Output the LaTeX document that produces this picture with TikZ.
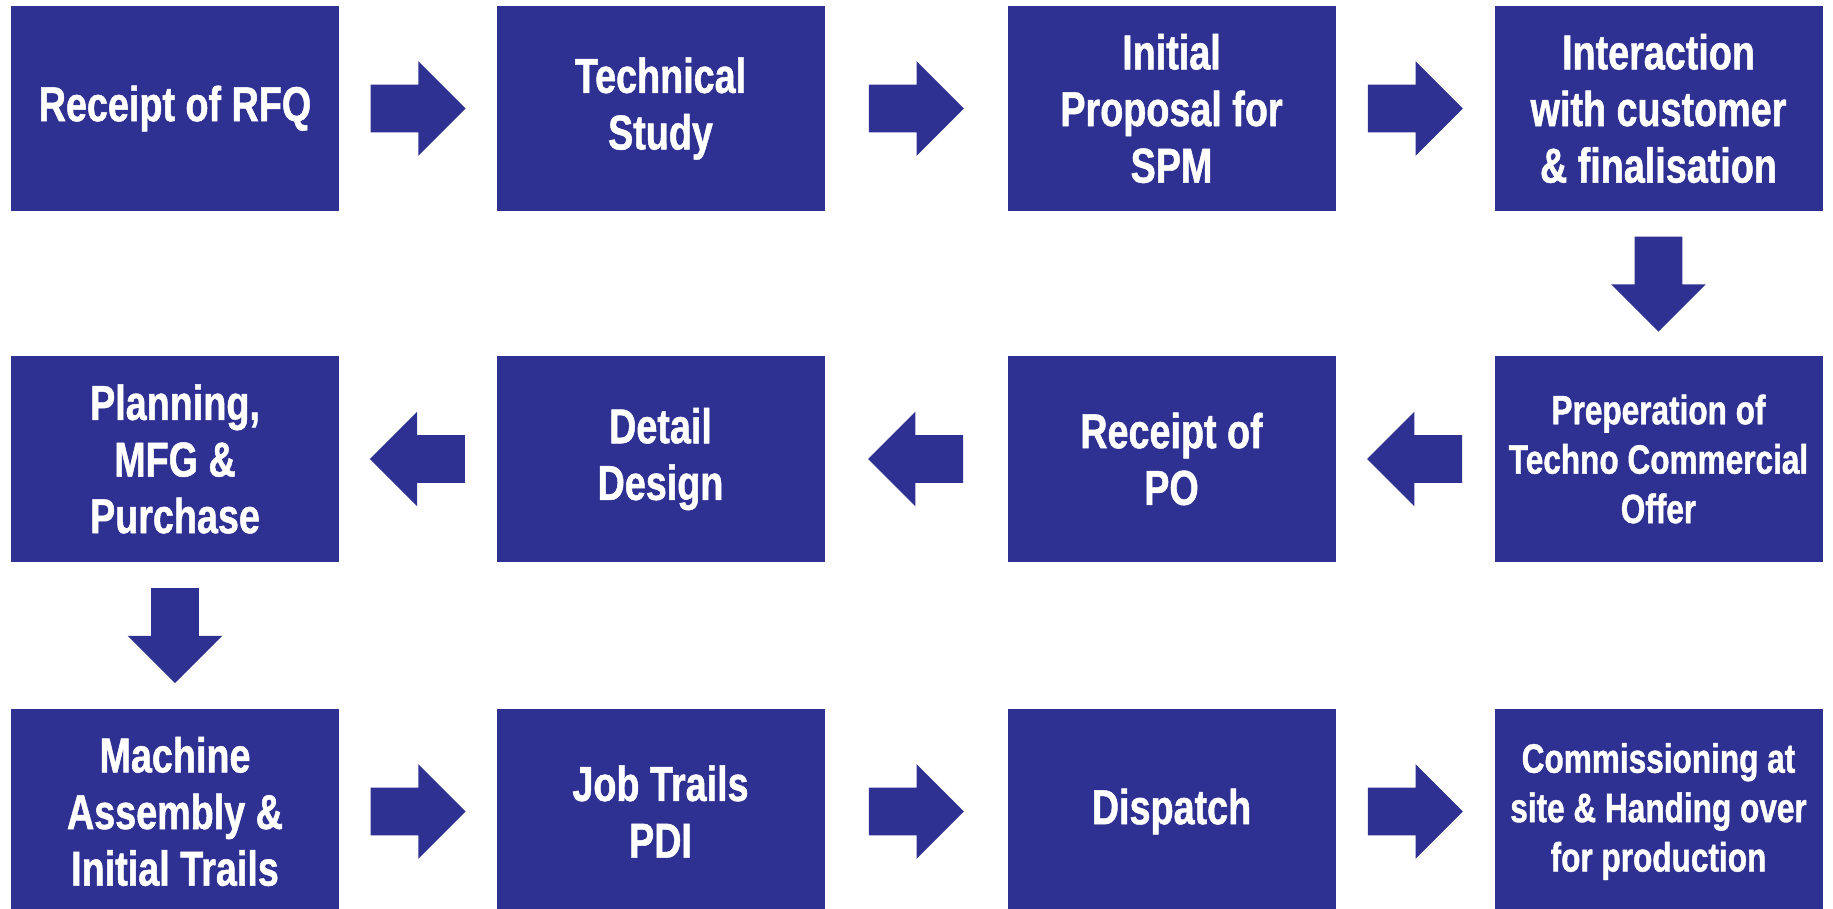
\documentclass[tikz,border=0pt]{standalone}
\usepackage{fontspec}
\setmainfont{Liberation Sans}[FakeStretch=0.77, BoldFeatures={FakeBold=1}]
\usetikzlibrary{shapes.arrows,calc}
\definecolor{flowblue}{RGB}{46,49,146}
\tikzset{
  stepbox/.style={fill=flowblue, text=white, minimum width=164pt, minimum height=102.5pt, inner sep=0pt, align=center, font=\bfseries\fontsize{24.5pt}{28.3pt}\selectfont},
  smalltext/.style={font=\bfseries\fontsize{20.5pt}{24.7pt}\selectfont},
  fatarrow/.style={single arrow, fill=flowblue, minimum height=47.5pt, single arrow head extend=11.75pt, inner xsep=0pt, inner ysep=11.75pt, rotate=#1, xshift=-5.75pt},
  fatarrow/.default=0
}
\begin{document}
\begin{tikzpicture}[x=0.5pt, y=-0.5pt]
\clip (0,0) rectangle (1833,909);
\node[stepbox] (rfq) at (175,108.5) {Receipt of RFQ};
\node[stepbox] (study) at (660.5,108.5) {Technical\\Study};
\node[stepbox] (proposal) at (1171.5,108.5) {Initial\\Proposal for\\SPM};
\node[stepbox] (interact) at (1658.5,108.5) {Interaction\\with customer\\\& finalisation};
\node[stepbox, smalltext] (offer) at (1658.5,459) {Preperation of\\Techno Commercial\\Offer};
\node[stepbox] (po) at (1171.5,459) {Receipt of\\PO};
\node[stepbox] (design) at (660.5,459) {Detail\\Design};
\node[stepbox] (planning) at (175,459) {Planning,\\MFG \&\\Purchase};
\node[stepbox] (assembly) at (175,811.5) {Machine\\Assembly \&\\Initial Trails};
\node[stepbox] (trails) at (660.5,811.5) {Job Trails\\PDI};
\node[stepbox] (dispatch) at (1171.5,811.5) {Dispatch};
\node[stepbox, smalltext] (commission) at (1658.5,811.5) {Commissioning at\\site \& Handing over\\for production};
\node[fatarrow] (a1) at ($(rfq.east)!0.5!(study.west)$) {};
\node[fatarrow] (a2) at ($(study.east)!0.5!(proposal.west)$) {};
\node[fatarrow] (a3) at ($(proposal.east)!0.5!(interact.west)$) {};
\node[fatarrow=-90] (a4) at ($(interact.south)!0.5!(offer.north)$) {};
\node[fatarrow=180] (a5) at ($(offer.west)!0.5!(po.east)$) {};
\node[fatarrow=180] (a6) at ($(po.west)!0.5!(design.east)$) {};
\node[fatarrow=180] (a7) at ($(design.west)!0.5!(planning.east)$) {};
\node[fatarrow=-90] (a8) at ($(planning.south)!0.5!(assembly.north)$) {};
\node[fatarrow] (a9) at ($(assembly.east)!0.5!(trails.west)$) {};
\node[fatarrow] (a10) at ($(trails.east)!0.5!(dispatch.west)$) {};
\node[fatarrow] (a11) at ($(dispatch.east)!0.5!(commission.west)$) {};
\end{tikzpicture}
\end{document}
